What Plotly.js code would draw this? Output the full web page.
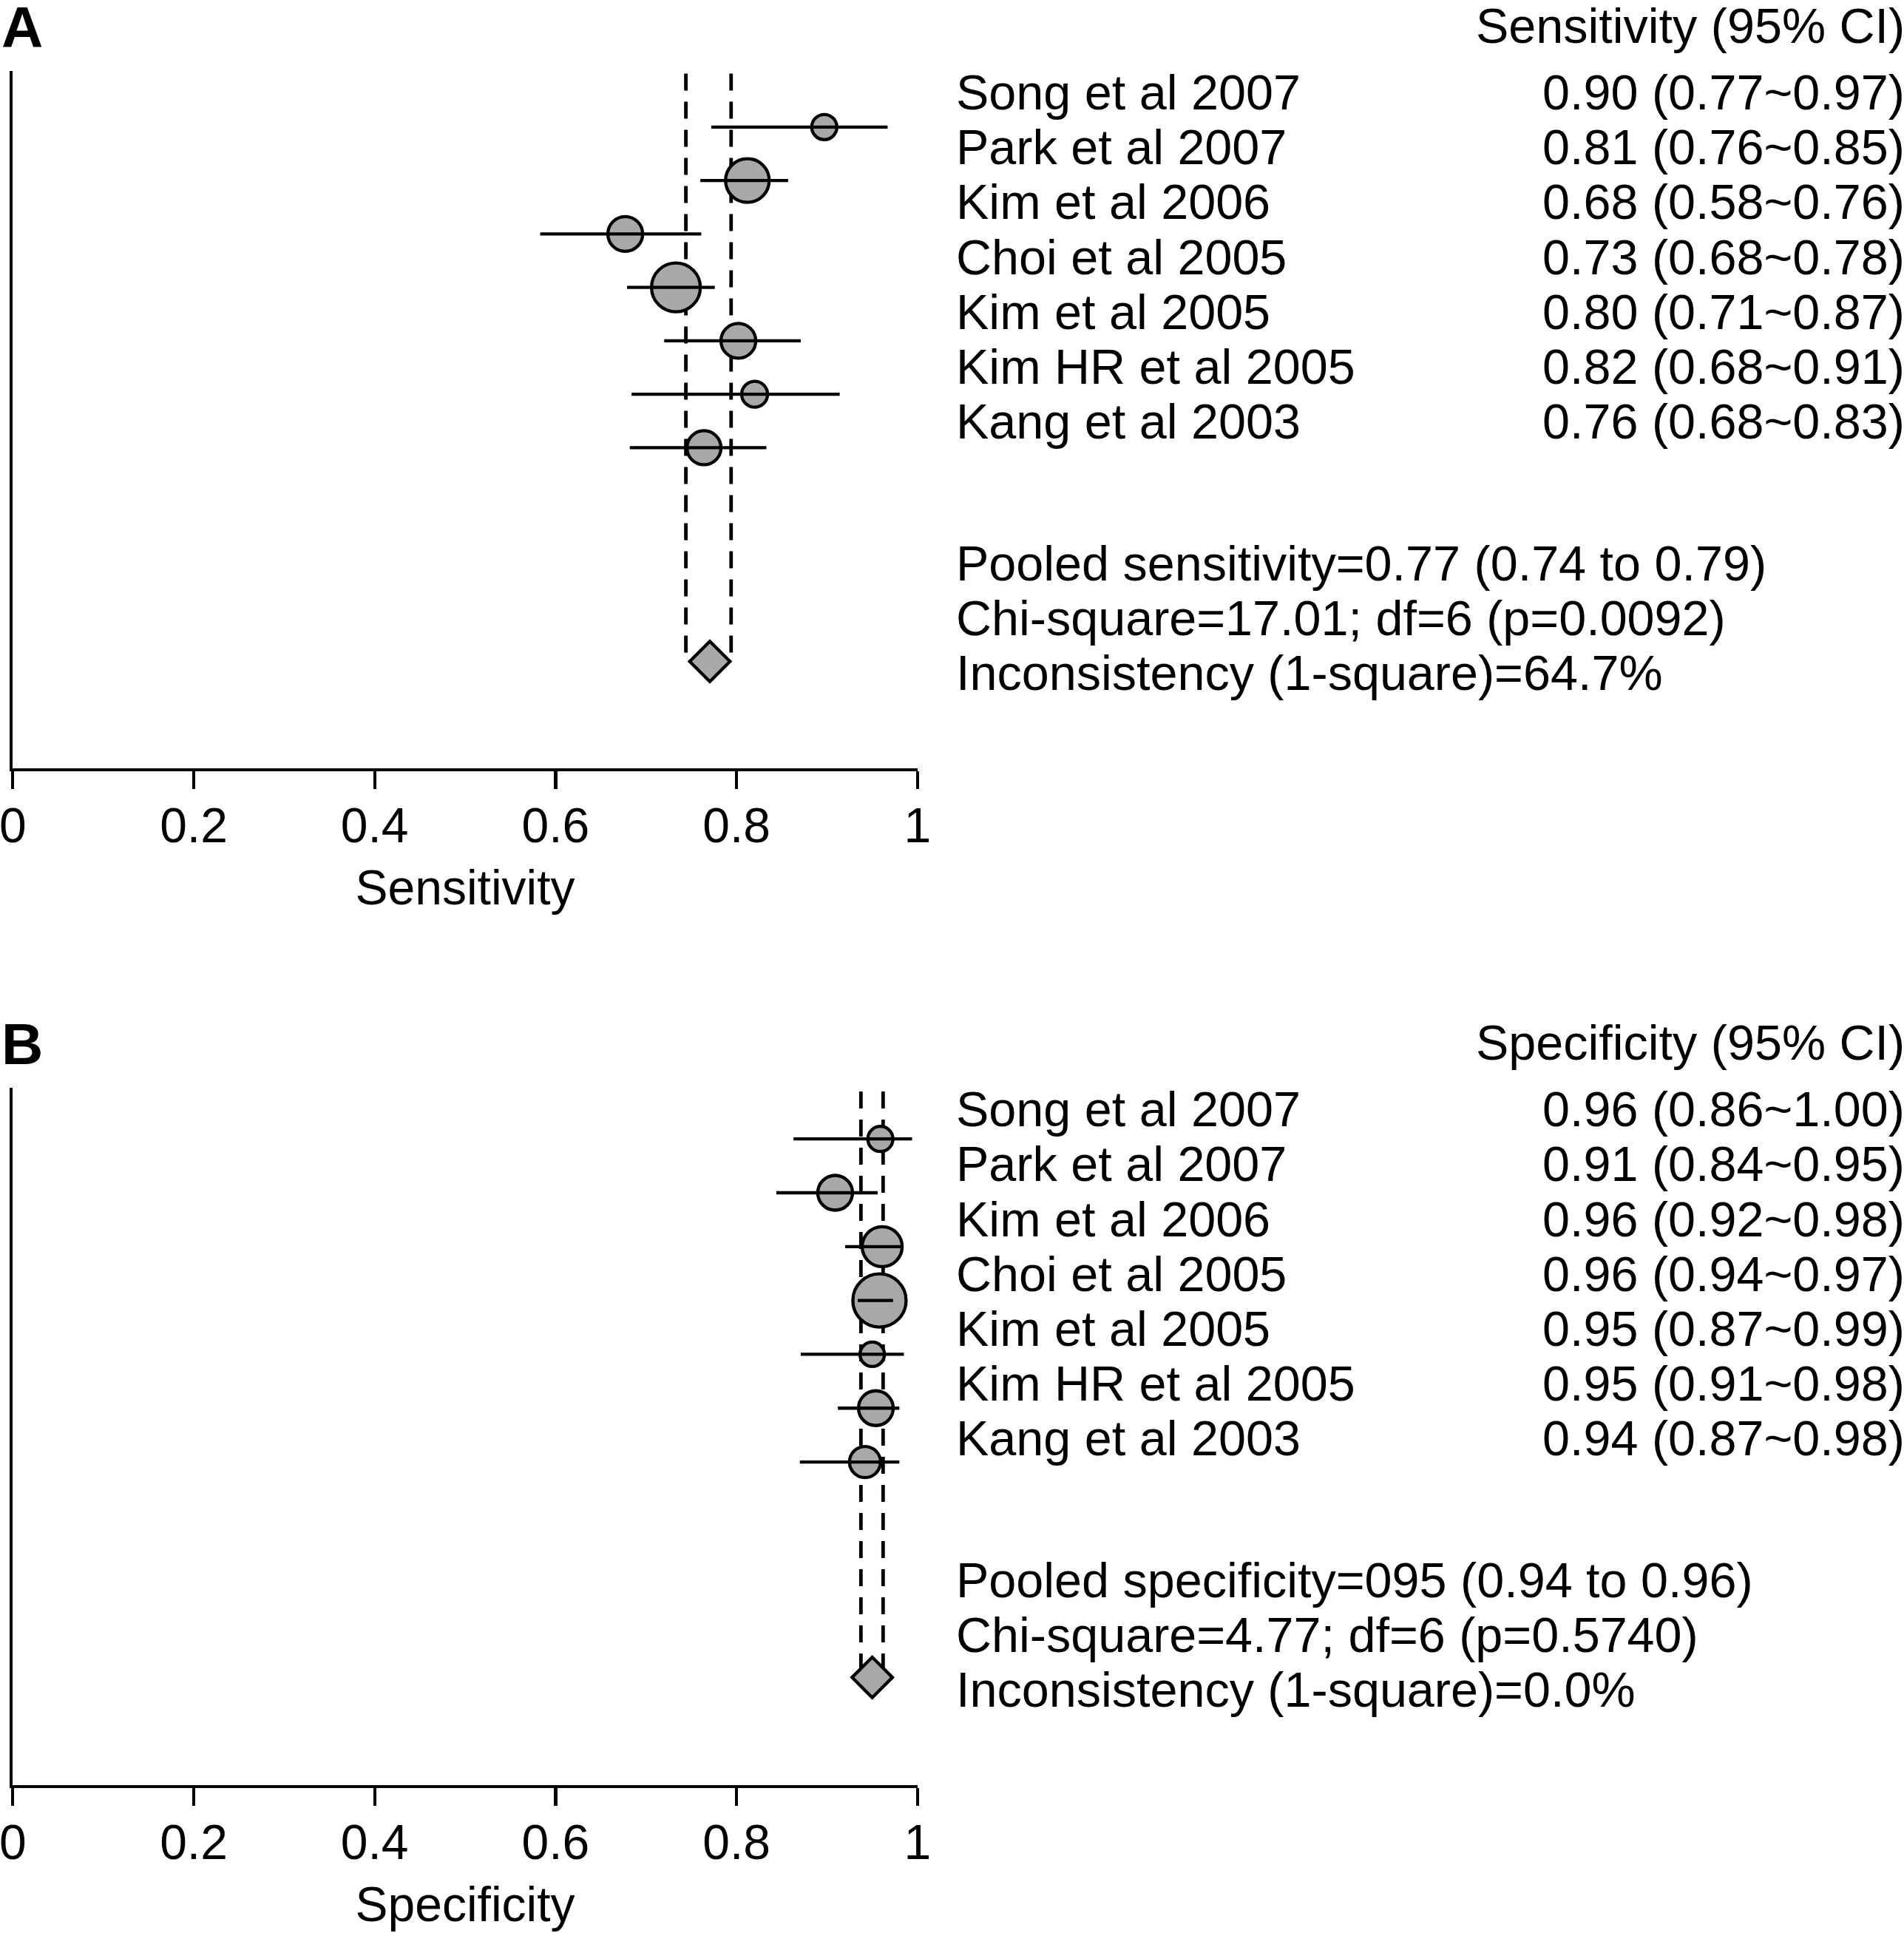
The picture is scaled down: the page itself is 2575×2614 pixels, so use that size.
<!DOCTYPE html>
<html>
<head>
<meta charset="utf-8">
<script src="https://cdn.plot.ly/plotly-3.0.1.min.js"></script>
<style>html,body{margin:0;padding:0;background:#fff;}#chart{width:2575px;height:2614px;}</style>
</head>
<body>
<div id="chart"></div>
<script>
// ---------------- data ----------------
const studies = ["Song et al 2007", "Park et al 2007", "Kim et al 2006", "Choi et al 2005",
                 "Kim et al 2005", "Kim HR et al 2005", "Kang et al 2003"];

// Panel A: sensitivity
const sensEst = [0.897, 0.812, 0.677, 0.733, 0.802, 0.820, 0.764];
const sensLo  = [0.772, 0.760, 0.583, 0.679, 0.720, 0.684, 0.682];
const sensHi  = [0.967, 0.857, 0.761, 0.776, 0.871, 0.914, 0.833];
const sensWeight = [34, 59, 47, 66, 47, 35, 46];   // relative study weight (marker size)
const sensLabels = ["0.90 (0.77~0.97)", "0.81 (0.76~0.85)", "0.68 (0.58~0.76)", "0.73 (0.68~0.78)",
                    "0.80 (0.71~0.87)", "0.82 (0.68~0.91)", "0.76 (0.68~0.83)"];
const sensPooled = 0.7705, sensPooledLo = 0.744, sensPooledHi = 0.794;
const sensHeader = "Sensitivity (95% CI)";
const sensStats = ["Pooled sensitivity=0.77 (0.74 to 0.79)",
                   "Chi-square=17.01; df=6 (p=0.0092)",
                   "Inconsistency (1-square)=64.7%"];
const sensAxisTitle = "Sensitivity";

// Panel B: specificity
const specEst = [0.959, 0.909, 0.961, 0.958, 0.950, 0.954, 0.942];
const specLo  = [0.863, 0.844, 0.920, 0.934, 0.871, 0.912, 0.870];
const specHi  = [0.994, 0.956, 0.983, 0.973, 0.985, 0.980, 0.980];
const specWeight = [34, 47, 54, 72, 33, 47, 42];
const specLabels = ["0.96 (0.86~1.00)", "0.91 (0.84~0.95)", "0.96 (0.92~0.98)", "0.96 (0.94~0.97)",
                    "0.95 (0.87~0.99)", "0.95 (0.91~0.98)", "0.94 (0.87~0.98)"];
const specPooled = 0.950, specPooledLo = 0.9375, specPooledHi = 0.962;
const specHeader = "Specificity (95% CI)";
const specStats = ["Pooled specificity=095 (0.94 to 0.96)",
                   "Chi-square=4.77; df=6 (p=0.5740)",
                   "Inconsistency (1-square)=0.0%"];
const specAxisTitle = "Specificity";

const tickVals = [0, 0.2, 0.4, 0.6, 0.8, 1];
const tickText = ["0", "0.2", "0.4", "0.6", "0.8", "1"];
const panelLetters = ["A", "B"];

// ---------------- drawing ----------------
const W = 2575, H = 2614;
const FONT = "Liberation Sans, Arial, Helvetica, sans-serif";
const FILL = "#a8a8a8";
const POOLED_ROW = 10;
const LW = 4.3;

function panelTraces(est, lo, hi, wt, pooled, pLo, pHi, xa, ya, dashTop) {
  const rows = est.map((_, i) => i);
  const dX = [pLo, pLo, null, pHi, pHi];
  const dY = [dashTop, POOLED_ROW, null, dashTop, POOLED_ROW];
  const ciX = [], ciY = [];
  lo.forEach((l, i) => { ciX.push(l, hi[i], null); ciY.push(i, i, null); });
  return [
    {x: dX, y: dY, xaxis: xa, yaxis: ya, mode: "lines", hoverinfo: "skip",
     line: {color: "#000", width: 4.8, dash: "23px,15px"}},
    {x: est, y: rows, xaxis: xa, yaxis: ya, mode: "markers",
     marker: {symbol: "circle", size: wt, color: FILL, opacity: 1, line: {color: "#000", width: LW}}},
    {x: ciX, y: ciY, xaxis: xa, yaxis: ya, mode: "lines", line: {color: "#000", width: LW}},
    {x: [pooled], y: [POOLED_ROW], xaxis: xa, yaxis: ya, mode: "markers",
     marker: {symbol: "diamond", size: 42, color: FILL, opacity: 1, line: {color: "#000", width: LW}}}
  ];
}

const traces = [].concat(
  panelTraces(sensEst, sensLo, sensHi, sensWeight, sensPooled, sensPooledLo, sensPooledHi, "x", "y", -1.0),
  panelTraces(specEst, specLo, specHi, specWeight, specPooled, specPooledLo, specPooledHi, "x2", "y2", -0.88)
);

const xDom = [17.3 / W, 1240.8 / W];
function xAxis(title, anchor) {
  return {
    domain: xDom, range: [0, 1], anchor: anchor, fixedrange: true,
    tickvals: tickVals, ticktext: tickText, ticks: "outside", ticklen: 24, tickwidth: 4.3, tickcolor: "#000",
    ticklabeloverflow: "allow", ticklabelstandoff: -8,
    showline: true, linewidth: 4.3, linecolor: "#000", showgrid: false, zeroline: false,
    tickfont: {family: FONT, size: 66, color: "#000"},
    title: {text: title, font: {family: FONT, size: 66, color: "#000"}, standoff: 26}
  };
}
function yAxis(pxTop, pxBot, top, anchor) {
  return {
    domain: [1 - pxBot / H, 1 - pxTop / H], range: [12, top], anchor: anchor, fixedrange: true,
    showline: true, linewidth: 4.3, linecolor: "#000", showgrid: false, zeroline: false,
    showticklabels: false, ticks: ""
  };
}

const annotations = [];
function txt(text, px, py, anchor, size, bold) {
  annotations.push({
    text: bold ? "<b>" + text + "</b>" : text, xref: "paper", yref: "paper",
    x: px / W, y: 1 - py / H, xanchor: anchor, yanchor: "middle", showarrow: false,
    font: {family: FONT, size: size, color: "#000"}
  });
}
function panelText(offset, letter, header, labels, stats) {
  txt(letter, 0, 37 + offset, "left", 78, true);
  txt(header, 1994, 35 + offset, "left", 66.5);
  studies.forEach((s, i) => {
    txt(s, 1291, 125.3 + 74.1 * i + offset, "left", 66.5);
    txt(labels[i], 2084, 125.3 + 74.1 * i + offset, "left", 66.5);
  });
  stats.forEach((s, i) => txt(s, 1291, 762 + 74.1 * i + offset, "left", 66.5));
}
panelText(0, panelLetters[0], sensHeader, sensLabels, sensStats);
panelText(1375, panelLetters[1], specHeader, specLabels, specStats);

const layout = {
  width: W, height: H, margin: {l: 0, r: 0, t: 0, b: 0},
  paper_bgcolor: "#fff", plot_bgcolor: "#fff", showlegend: false,
  font: {family: FONT, color: "#000"},
  xaxis: xAxis(sensAxisTitle, "y"),
  yaxis: yAxis(96, 1039, -1.05, "x"),
  xaxis2: xAxis(specAxisTitle, "y2"),
  yaxis2: yAxis(1471, 2414, -0.95, "x2"),
  annotations: annotations
};

Plotly.newPlot("chart", traces, layout, {staticPlot: true, displayModeBar: false});
</script>
</body>
</html>
